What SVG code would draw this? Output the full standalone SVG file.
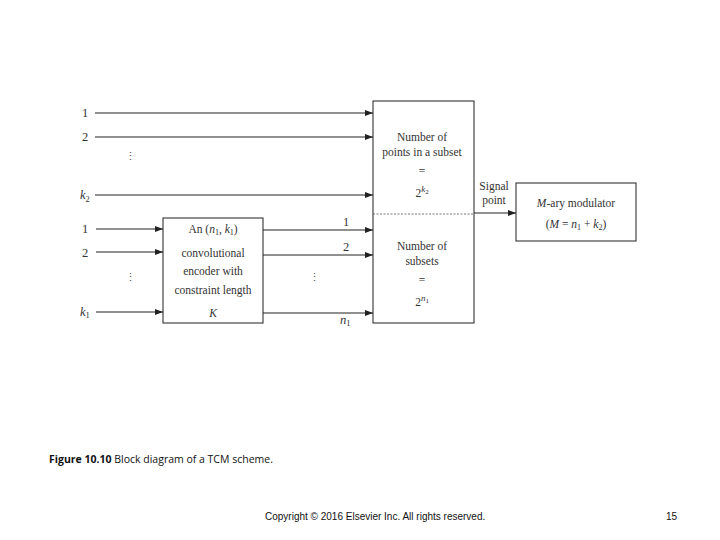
<svg xmlns="http://www.w3.org/2000/svg" width="720" height="540" viewBox="0 0 720 540">
<style>
.t{font-family:"Liberation Serif","DejaVu Serif",serif;font-size:11.5px;fill:#333;}
.l{font-size:12.5px;}
.i{font-style:italic;}
.c{text-anchor:middle;}
.box{fill:#fff;stroke:#333;stroke-width:1.1;}
.ln{stroke:#222;stroke-width:1.2;fill:none;marker-end:url(#ah);}
.dots{font-family:"Liberation Serif",serif;font-size:11px;fill:#555;}
</style>
<defs>
<marker id="ah" viewBox="0 0 8 6" refX="8" refY="3" markerWidth="8" markerHeight="6" markerUnits="userSpaceOnUse" orient="auto">
<path d="M0,0 L8,3 L0,6 z" fill="#222"/>
</marker>
</defs>
<rect width="720" height="540" fill="#fff"/>

<g id="mapper">
<rect class="box" x="373" y="101" width="101" height="222"/>
<line x1="373" y1="214" x2="474" y2="214" stroke="#555" stroke-width="0.8" stroke-dasharray="2,1.5"/>
<text class="t c" x="422" y="141">Number of</text>
<text class="t c" x="422" y="156">points in a subset</text>
<text class="t c" x="422" y="175">=</text>
<text class="t c" x="422" y="197">2<tspan class="i" font-size="9" dy="-5">k</tspan><tspan font-size="7" dy="2">2</tspan></text>
<text class="t c" x="422" y="250">Number of</text>
<text class="t c" x="422" y="265">subsets</text>
<text class="t c" x="422" y="284">=</text>
<text class="t c" x="422" y="306">2<tspan class="i" font-size="9" dy="-5">n</tspan><tspan font-size="7" dy="2">1</tspan></text>
</g>

<g id="encoder">
<rect class="box" x="163" y="218" width="100" height="105"/>
<text class="t c" x="213" y="233">An (<tspan class="i">n</tspan><tspan font-size="8" dy="2">1</tspan><tspan dy="-2">, </tspan><tspan class="i">k</tspan><tspan font-size="8" dy="2">1</tspan><tspan dy="-2">)</tspan></text>
<text class="t c" x="213" y="257">convolutional</text>
<text class="t c" x="213" y="275">encoder with</text>
<text class="t c" x="213" y="294">constraint length</text>
<text class="t c i" x="213" y="317">K</text>
</g>

<g id="modulator">
<rect class="box" x="516" y="183" width="120" height="58"/>
<text class="t c" x="576" y="207"><tspan class="i">M</tspan>-ary modulator</text>
<text class="t c" x="576" y="228">(<tspan class="i">M</tspan> = <tspan class="i">n</tspan><tspan font-size="8" dy="2">1</tspan><tspan dy="-2"> + </tspan><tspan class="i">k</tspan><tspan font-size="8" dy="2">2</tspan><tspan dy="-2">)</tspan></text>
</g>

<g id="connectors">
<line class="ln" x1="95" y1="113" x2="373" y2="113" stroke-width="1.6"/>
<line class="ln" x1="95" y1="137" x2="373" y2="137"/>
<line class="ln" x1="95" y1="195" x2="373" y2="195" stroke-width="1.5"/>
<line class="ln" x1="96" y1="229" x2="163" y2="229" stroke-width="1.5"/>
<line class="ln" x1="96" y1="252" x2="163" y2="252"/>
<line class="ln" x1="96" y1="312" x2="163" y2="312" stroke-width="1.5"/>
<line class="ln" x1="263" y1="230" x2="373" y2="230"/>
<line class="ln" x1="263" y1="255" x2="373" y2="255" stroke-width="1.5"/>
<line class="ln" x1="263" y1="313" x2="373" y2="313" stroke-width="1.5"/>
<line class="ln" x1="474" y1="213" x2="516" y2="213"/>
</g>

<g id="labels">
<text class="t l" x="82" y="117">1</text>
<text class="t l" x="82" y="141">2</text>
<text class="t l i" x="80" y="199">k<tspan font-size="8.5" font-style="normal" dy="3">2</tspan></text>
<text class="t l" x="82" y="233">1</text>
<text class="t l" x="82" y="257">2</text>
<text class="t l i" x="80" y="316">k<tspan font-size="8.5" font-style="normal" dy="2">1</tspan></text>
<text class="t l" x="343" y="226">1</text>
<text class="t l" x="343" y="251">2</text>
<text class="t l i" x="340" y="324">n<tspan font-size="8.5" font-style="normal" dy="2">1</tspan></text>
<text class="t c" x="494" y="190">Signal</text>
<text class="t c" x="494" y="204">point</text>
<text class="dots" x="125" y="160">⋮</text>
<text class="dots" x="125" y="281">⋮</text>
<text class="dots" x="309" y="281">⋮</text>
</g>

<text x="49" y="463" font-family="'Open Sans','Liberation Sans',sans-serif" font-size="10.5" fill="#111"><tspan font-weight="bold">Figure 10.10</tspan> Block diagram of a TCM scheme.</text>
<text x="265" y="520" font-family="'Liberation Sans',sans-serif" font-size="10" fill="#111">Copyright © 2016 Elsevier Inc. All rights reserved.</text>
<text x="666" y="520" font-family="'Liberation Sans',sans-serif" font-size="10" fill="#111">15</text>
</svg>
